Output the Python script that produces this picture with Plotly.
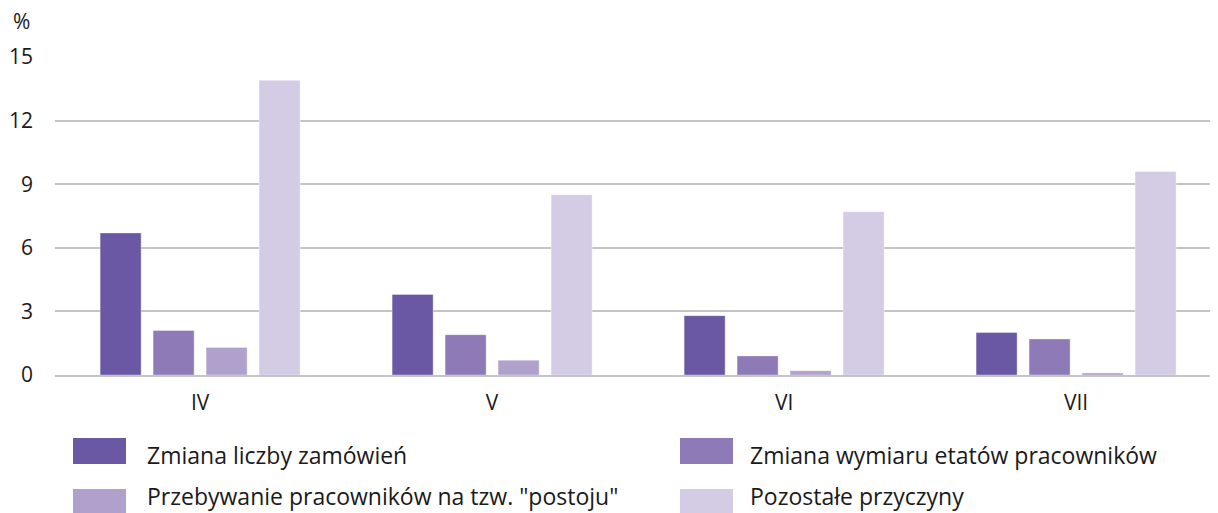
import plotly.graph_objects as go

categories = ["IV", "V", "VI", "VII"]
series_names = [
    "Zmiana liczby zamówień",
    "Zmiana wymiaru etatów pracowników",
    "Przebywanie pracowników na tzw. \"postoju\"",
    "Pozostałe przyczyny",
]
zmiana_zamowien = [6.7, 3.8, 2.8, 2.0]
zmiana_etatow = [2.1, 1.9, 0.9, 1.7]
postoj = [1.3, 0.7, 0.2, 0.1]
pozostale = [13.9, 8.5, 7.7, 9.6]
y_ticks = [0, 3, 6, 9, 12, 15]

colors = ["#6b58a5", "#8e7ab7", "#b0a0cc", "#d4cbe5"]
values = [zmiana_zamowien, zmiana_etatow, postoj, pozostale]

OFF = 8  # page body margin
W, H = 1218 - OFF, 513 - OFF
ML, MR, MT, MB = 55 - OFF, 0, 57 - OFF, 138
FONT = "Open Sans"

fig = go.Figure()
for name, vals, col in zip(series_names, values, colors):
    fig.add_trace(go.Bar(
        x=categories, y=vals, name=name,
        marker=dict(color=col, line=dict(width=1, color="rgba(255,255,255,0.35)")),
        showlegend=False,
    ))

plot_w = W - ML - MR
plot_h = H - MT - MB

def px_x(x):
    return (x - OFF - ML) / plot_w

def px_y(y):
    return (H - MB - (y - OFF)) / plot_h

shapes = []
annotations = []
# (marker x, marker y, text x, text center y)
leg_pos = [(73, 438, 145, 455), (680, 438, 748, 455), (73, 489, 145, 496), (680, 489, 748, 496)]
for (lx, ly, tx, ty), idx in zip(leg_pos, range(4)):
    shapes.append(dict(
        type="rect", xref="paper", yref="paper",
        x0=px_x(lx), x1=px_x(lx + 53), y0=px_y(ly), y1=px_y(ly + 26),
        fillcolor=colors[idx], line=dict(width=0),
    ))
    annotations.append(dict(
        xref="paper", yref="paper", x=px_x(tx), y=px_y(ty),
        text=series_names[idx], showarrow=False, xanchor="left", yanchor="middle",
        font=dict(family=FONT, size=23, color="#1a1a1a"),
    ))
annotations.append(dict(
    xref="paper", yref="paper", x=px_x(21), y=px_y(21),
    text="%", showarrow=False, xanchor="center", yanchor="middle",
    font=dict(family=FONT, size=21, color="#1a1a1a"),
))

fig.update_layout(
    width=W, height=H,
    margin=dict(l=ML, r=MR, t=MT, b=MB, pad=0),
    paper_bgcolor="white", plot_bgcolor="white",
    barmode="group", bargap=0.274, bargroupgap=0.226,
    font=dict(family=FONT, size=21, color="#1a1a1a"),
    xaxis=dict(
        range=[-0.497, 3.486], showgrid=False, showline=True,
        linecolor="#c4c4c4", linewidth=2, ticks="", ticklen=0,
        tickfont=dict(family=FONT, size=21, color="#1a1a1a"),
        zeroline=False, ticklabelstandoff=8,
    ),
    yaxis=dict(
        range=[0, 15], tickvals=y_ticks, ticktext=[str(t) for t in y_ticks],
        showgrid=True, gridcolor="#c4c4c4", gridwidth=1.5,
        zeroline=False, showline=False, ticks="",
        tickfont=dict(family=FONT, size=21, color="#1a1a1a"),
        ticklabelstandoff=21,
    ),
    shapes=shapes, annotations=annotations,
)

fig.write_html("out.html")
